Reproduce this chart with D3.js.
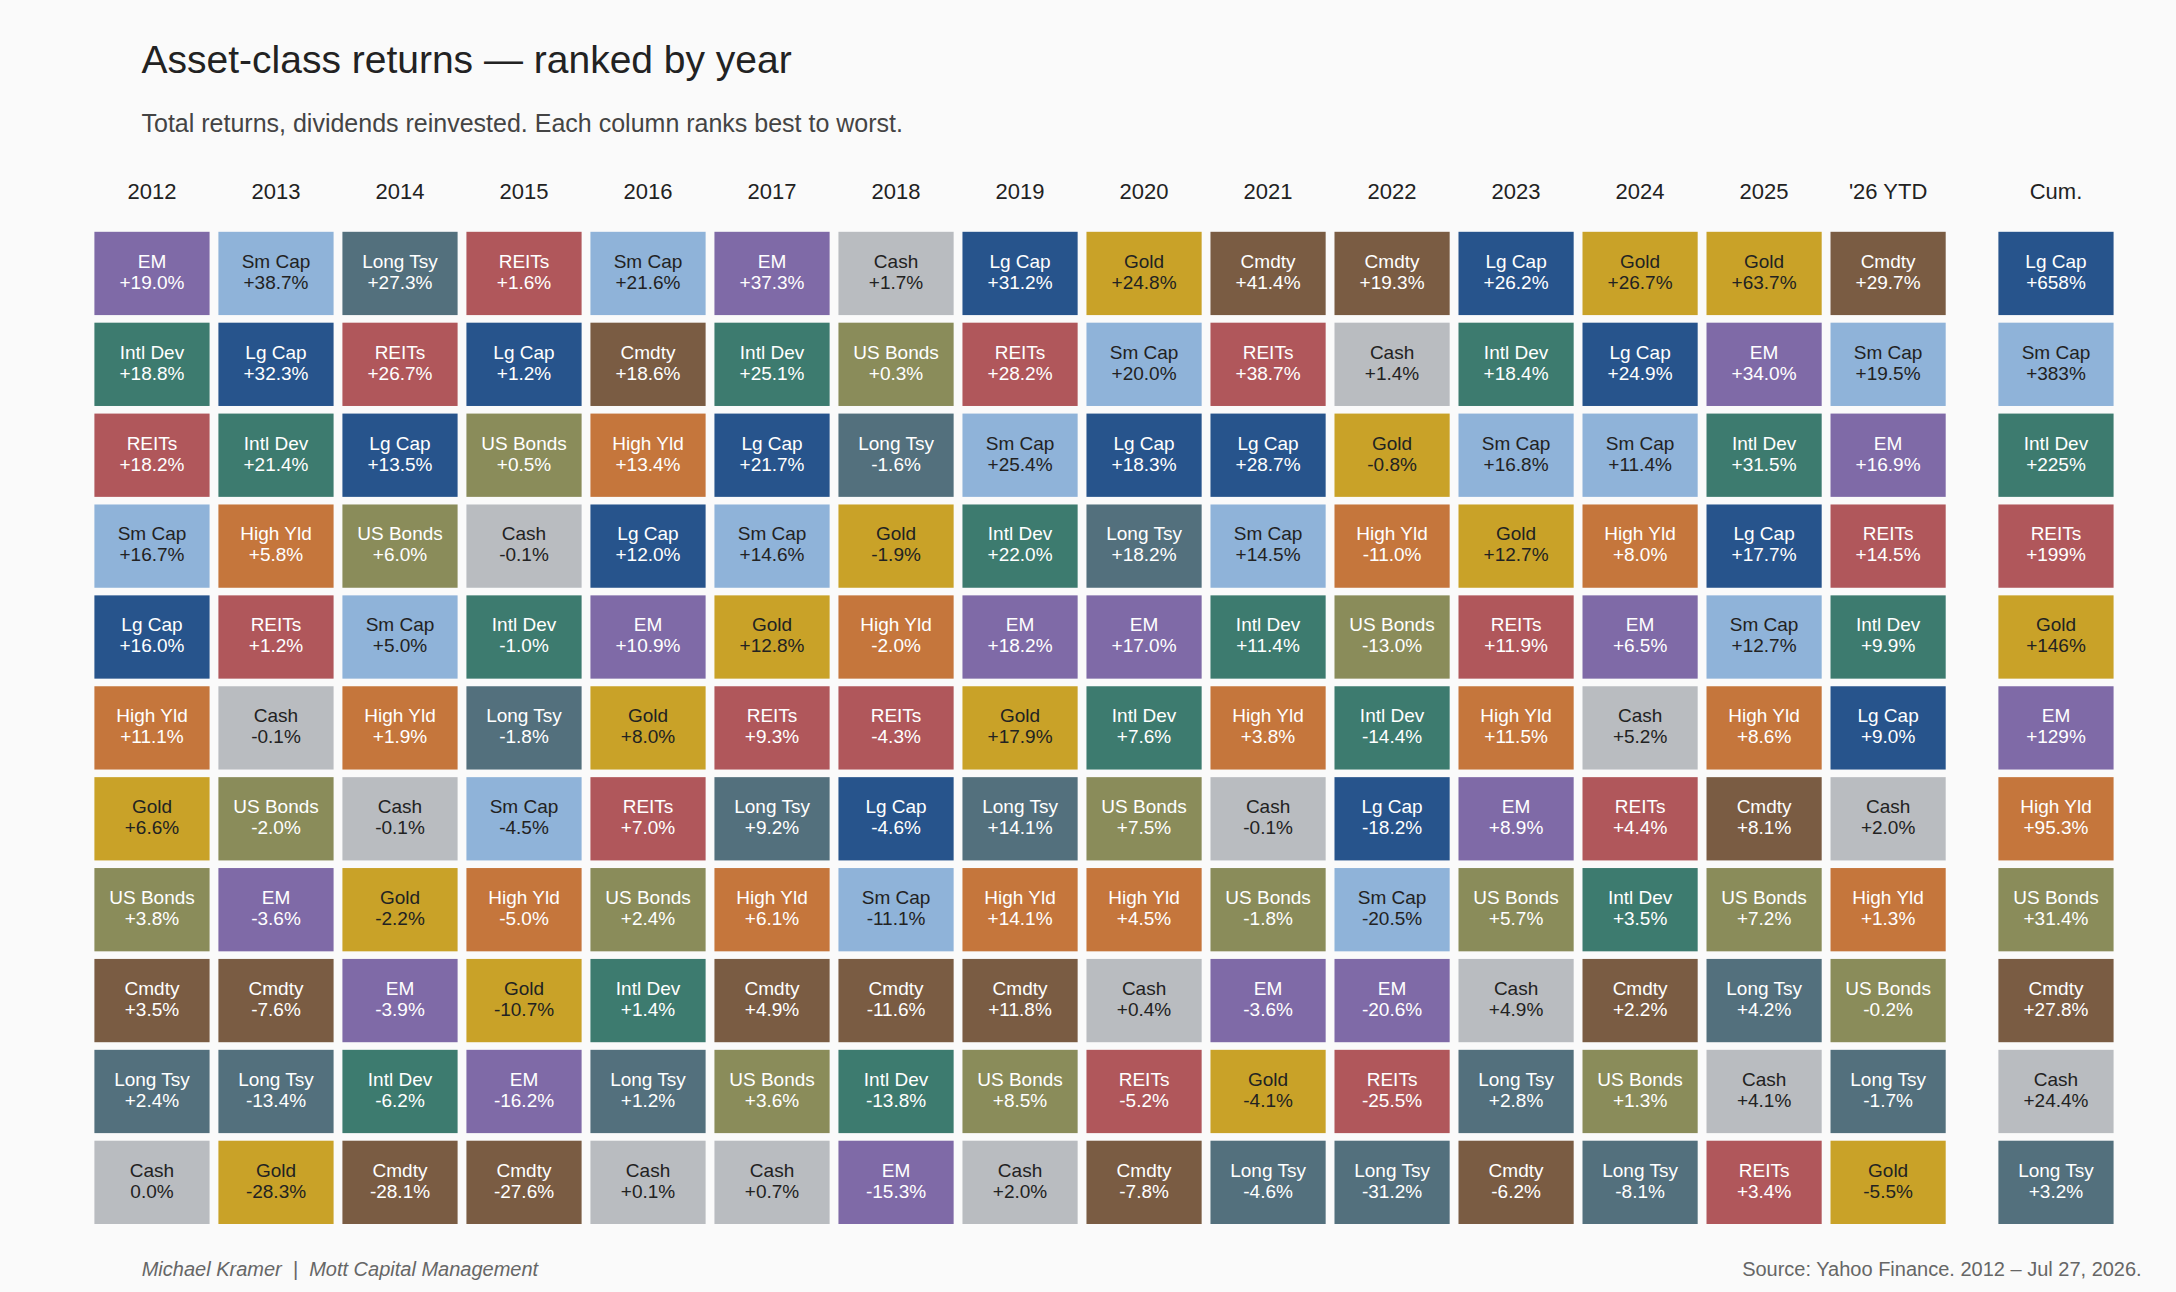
<!DOCTYPE html>
<html>
<head>
  <meta charset="utf-8">
  <title>Asset-class returns — ranked by year</title>
  <script src="https://cdn.jsdelivr.net/npm/d3@7"></script>
  <style>
    body {
      margin: 0;
      background: #fafafa;
      font-family: "Liberation Sans", Arial, sans-serif;
    }
  </style>
</head>
<body>
  <svg id="chart" width="2176" height="1292"></svg>
  <script>
    const years = ['2012', '2013', '2014', '2015', '2016', '2017', '2018', '2019',
      '2020', '2021', '2022', '2023', '2024', '2025', "'26 YTD"];

    const assets = ['Lg Cap', 'Sm Cap', 'Intl Dev', 'EM', 'REITs', 'High Yld',
      'US Bonds', 'Long Tsy', 'Cmdty', 'Gold', 'Cash'];

    // yearly total returns (%) per asset, 2012 .. 2026 YTD
    const lgCap   = [16.0, 32.3, 13.5, 1.2, 12.0, 21.7, -4.6, 31.2, 18.3, 28.7, -18.2, 26.2, 24.9, 17.7, 9.0];
    const smCap   = [16.7, 38.7, 5.0, -4.5, 21.6, 14.6, -11.1, 25.4, 20.0, 14.5, -20.5, 16.8, 11.4, 12.7, 19.5];
    const intlDev = [18.8, 21.4, -6.2, -1.0, 1.4, 25.1, -13.8, 22.0, 7.6, 11.4, -14.4, 18.4, 3.5, 31.5, 9.9];
    const em      = [19.0, -3.6, -3.9, -16.2, 10.9, 37.3, -15.3, 18.2, 17.0, -3.6, -20.6, 8.9, 6.5, 34.0, 16.9];
    const reits   = [18.2, 1.2, 26.7, 1.6, 7.0, 9.3, -4.3, 28.2, -5.2, 38.7, -25.5, 11.9, 4.4, 3.4, 14.5];
    const highYld = [11.1, 5.8, 1.9, -5.0, 13.4, 6.1, -2.0, 14.08, 4.5, 3.8, -11.0, 11.5, 8.0, 8.6, 1.3];
    const usBonds = [3.8, -2.0, 6.0, 0.5, 2.4, 3.6, 0.3, 8.5, 7.5, -1.8, -13.0, 5.7, 1.3, 7.2, -0.2];
    const longTsy = [2.4, -13.4, 27.3, -1.8, 1.2, 9.2, -1.6, 14.12, 18.2, -4.6, -31.2, 2.8, -8.1, 4.2, -1.7];
    const cmdty   = [3.5, -7.6, -28.1, -27.6, 18.6, 4.9, -11.6, 11.8, -7.8, 41.4, 19.3, -6.2, 2.2, 8.1, 29.7];
    const gold    = [6.6, -28.3, -2.2, -10.7, 8.0, 12.8, -1.9, 17.9, 24.8, -4.1, -0.8, 12.7, 26.7, 63.7, -5.5];
    const cash    = [0.0, -0.1, -0.1, -0.1, 0.1, 0.7, 1.7, 2.0, 0.4, -0.1, 1.4, 4.9, 5.2, 4.1, 2.0];

    // cumulative return (%) over the whole period, same asset order
    const cumulative = [658, 383, 225, 129, 199, 95.3, 31.4, 3.2, 27.8, 146, 24.4];

    const series = [lgCap, smCap, intlDev, em, reits, highYld, usBonds, longTsy, cmdty, gold, cash];

    const colors = {
      'Lg Cap': '#27548c', 'Sm Cap': '#8fb3d9', 'Intl Dev': '#3d7b6f', 'EM': '#7f6aa7',
      'REITs': '#b0575b', 'High Yld': '#c5763c', 'US Bonds': '#8a8c5a', 'Long Tsy': '#53707d',
      'Cmdty': '#7a5c43', 'Gold': '#c9a228', 'Cash': '#b9bcc0'
    };
    const darkText = new Set(['Sm Cap', 'Gold', 'Cash']);

    const svg = d3.select('#chart');

    const x = d3.scaleBand().domain(years).range([94.4, 1945.7]).paddingInner(0.0712);
    const xCum = d3.scaleBand().domain(['Cum.']).range([1998.4, 2113.6]);
    const y = d3.scaleBand().domain(d3.range(assets.length)).range([231.8, 1224]).paddingInner(0.0837);

    const fmt = v => (v > 0 ? '+' : '') + v.toFixed(1) + '%';
    const fmtCum = v => '+' + (v >= 100 ? Math.round(v) : v.toFixed(1)) + '%';

    // one ranked column per year
    const columns = years.map((yr, j) => ({
      key: yr,
      x: x(yr),
      cells: d3.sort(assets.map((a, i) => ({ asset: a, value: series[i][j] })), (a, b) => b.value - a.value)
        .map(d => Object.assign(d, { label: fmt(d.value) }))
    }));
    columns.push({
      key: 'Cum.',
      x: xCum('Cum.'),
      cells: d3.sort(assets.map((a, i) => ({ asset: a, value: cumulative[i] })), (a, b) => b.value - a.value)
        .map(d => Object.assign(d, { label: fmtCum(d.value) }))
    });

    svg.append('text')
      .attr('x', 141.5)
      .attr('y', 73.3)
      .attr('fill', '#222')
      .style('font-size', '39px')
      .text('Asset-class returns — ranked by year');

    svg.append('text')
      .attr('x', 141.5)
      .attr('y', 131.7)
      .attr('fill', '#444')
      .style('font-size', '25px')
      .text('Total returns, dividends reinvested. Each column ranks best to worst.');

    const col = svg.selectAll('g.col')
      .data(columns)
      .enter()
      .append('g')
      .attr('class', 'col')
      .attr('transform', d => `translate(${d.x},0)`);

    col.append('text')
      .attr('x', x.bandwidth() / 2)
      .attr('y', 199.3)
      .attr('text-anchor', 'middle')
      .attr('fill', '#222')
      .style('font-size', '22px')
      .text(d => d.key);

    const cell = col.selectAll('g.cell')
      .data(d => d.cells)
      .enter()
      .append('g')
      .attr('class', 'cell')
      .attr('transform', (d, i) => `translate(0,${y(i)})`);

    cell.append('rect')
      .attr('width', x.bandwidth())
      .attr('height', y.bandwidth())
      .attr('fill', d => colors[d.asset]);

    cell.append('text')
      .attr('x', x.bandwidth() / 2)
      .attr('y', 36)
      .attr('text-anchor', 'middle')
      .attr('fill', d => darkText.has(d.asset) ? '#222' : '#fff')
      .style('font-size', '19px')
      .text(d => d.asset);

    cell.append('text')
      .attr('x', x.bandwidth() / 2)
      .attr('y', 57)
      .attr('text-anchor', 'middle')
      .attr('fill', d => darkText.has(d.asset) ? '#222' : '#fff')
      .style('font-size', '19px')
      .text(d => d.label);

    svg.append('text')
      .attr('x', 141.7)
      .attr('y', 1276)
      .attr('fill', '#666')
      .style('font-size', '20px')
      .style('font-style', 'italic')
      .style('white-space', 'pre')
      .text('Michael Kramer  |  Mott Capital Management');

    svg.append('text')
      .attr('x', 2141.7)
      .attr('y', 1276)
      .attr('text-anchor', 'end')
      .attr('fill', '#666')
      .style('font-size', '20px')
      .text('Source: Yahoo Finance. 2012 – Jul 27, 2026.');
  </script>
</body>
</html>
